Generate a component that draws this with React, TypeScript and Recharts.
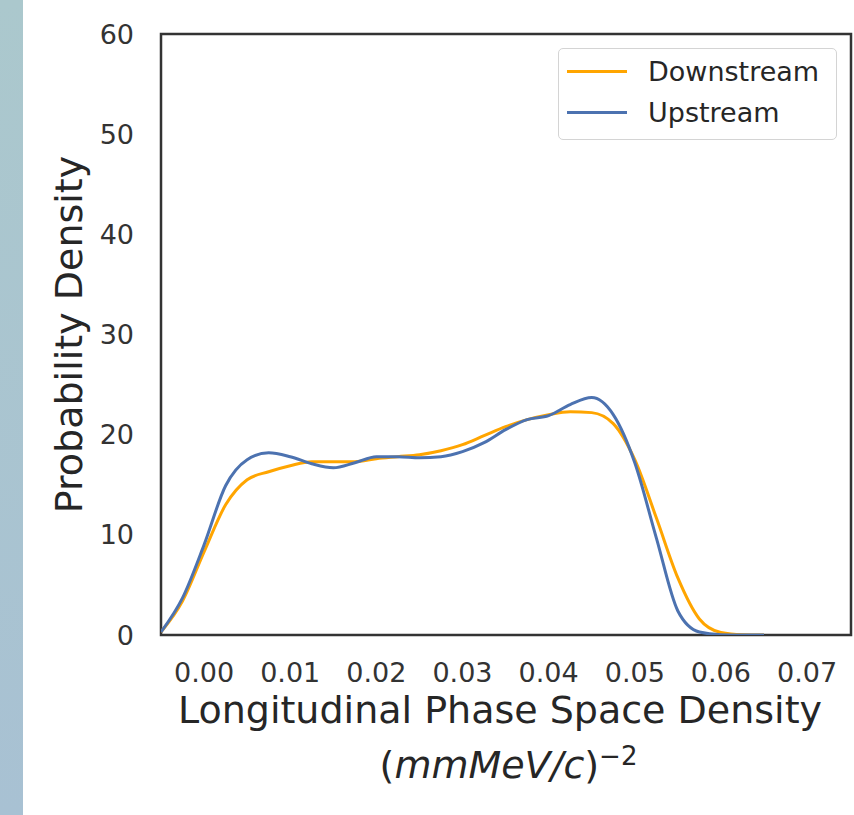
import React from "react";
import { LineChart, Line, XAxis, YAxis, Legend, ReferenceArea } from "recharts";

/** Sample positions along the density axis. */
const X_VALUES = [
  -0.005, -0.0025, 0, 0.0025, 0.005, 0.0075, 0.01, 0.0125, 0.015, 0.0175, 0.02,
  0.0225, 0.025, 0.0275, 0.03, 0.0325, 0.035, 0.0375, 0.04, 0.0425, 0.045,
  0.0475, 0.05, 0.0525, 0.055, 0.0575, 0.06, 0.0625, 0.065,
];

/** KDE. */
const DOWNSTREAM = [
  0.3, 3.4, 8.3, 13.0, 15.5, 16.3, 16.9, 17.3, 17.3, 17.3, 17.6, 17.8, 18.0,
  18.4, 19.0, 19.9, 20.8, 21.5, 22.0, 22.3, 22.2, 21.1, 17.5, 11.7, 5.7, 1.6,
  0.25, 0.03, 0,
];

/** KDE. */
const UPSTREAM = [
  0.3, 3.7, 9.0, 14.9, 17.5, 18.2, 17.8, 17.1, 16.7, 17.2, 17.8, 17.8, 17.7,
  17.8, 18.3, 19.2, 20.5, 21.5, 21.9, 23.0, 23.7, 22.0, 17.2, 9.7, 2.4, 0.3,
  0.03, 0, 0,
];

const X_TICKS = [0, 0.01, 0.02, 0.03, 0.04, 0.05, 0.06, 0.07];
const Y_TICKS = [0, 10, 20, 30, 40, 50, 60];
const X_DOMAIN: [number, number] = [-0.005, 0.0751];
const Y_DOMAIN: [number, number] = [0, 60];

const TEXT_COLOR = "#262626";
const TICK_COLOR = "#333";
const FRAME_COLOR = "#333";

const SERIES = [
  { key: "downstream", name: "Downstream", color: "#ffa500", values: DOWNSTREAM },
  { key: "upstream", name: "Upstream", color: "#4c72b0", values: UPSTREAM },
];

const rows = X_VALUES.map((x, i) => {
  const row: Record<string, number> = { x };
  SERIES.forEach((s) => {
    row[s.key] = s.values[i];
  });
  return row;
});

function XLabel({ viewBox }: any) {
  if (!viewBox) return null;
  const cx = viewBox.x + viewBox.width / 2;
  const top = viewBox.y;
  return (
    <g fill={TEXT_COLOR} fontSize={38}>
      <text x={cx - 6} y={top + 88} textAnchor="middle">
        Longitudinal Phase Space Density
      </text>
      <text x={cx + 2.5} y={top + 143} textAnchor="middle">
        <tspan>(</tspan>
        <tspan fontStyle="italic">mmMeV/c</tspan>
        <tspan>)</tspan>
        <tspan dy={-13} fontSize={26}>
          −2
        </tspan>
      </text>
    </g>
  );
}

function YLabel({ viewBox }: any) {
  if (!viewBox) return null;
  const x = viewBox.x + viewBox.width - 79;
  const cy = viewBox.y + viewBox.height / 2;
  return (
    <text
      x={x}
      y={cy}
      transform={`rotate(-90, ${x}, ${cy})`}
      textAnchor="middle"
      fontSize={38}
      fill={TEXT_COLOR}
    >
      Probability Density
    </text>
  );
}

function LegendBox({ payload }: any) {
  return (
    <div
      style={{
        width: 279,
        height: 92,
        boxSizing: "border-box",
        border: "1.5px solid #d4d4d4",
        borderRadius: 5,
        background: "rgba(255,255,255,0.85)",
        paddingTop: 2,
      }}
    >
      {(payload || []).map((entry: any) => (
        <div
          key={entry.value}
          style={{ display: "flex", alignItems: "center", height: 41 }}
        >
          <span
            style={{
              marginLeft: 8,
              width: 60,
              height: 3,
              background: entry.color,
            }}
          />
          <span
            style={{
              marginLeft: 21,
              fontSize: 27,
              lineHeight: 1,
              color: TEXT_COLOR,
            }}
          >
            {entry.value}
          </span>
        </div>
      ))}
    </div>
  );
}

export default function App() {
  return (
    <div
      style={{
        position: "absolute",
        left: 0,
        top: 0,
        width: 854,
        height: 815,
        background: "#fff",
        fontFamily: "'DejaVu Sans', sans-serif",
      }}
    >
      <div
        style={{
          position: "absolute",
          left: 0,
          top: 0,
          width: 23,
          height: 815,
          background: "linear-gradient(#abc8cd, #a8c1d3)",
        }}
      />
      <LineChart
        width={854}
        height={815}
        data={rows}
        margin={{ top: 34, right: 3, bottom: 120, left: 101 }}
      >
        <XAxis
          dataKey="x"
          type="number"
          domain={X_DOMAIN}
          ticks={X_TICKS}
          interval={0}
          allowDataOverflow
          axisLine={false}
          tickLine={false}
          tickSize={0}
          tickMargin={28}
          height={60}
          tick={{ fill: TICK_COLOR, fontSize: 27 }}
          tickFormatter={(v: number) => v.toFixed(2)}
          label={<XLabel />}
        />
        <YAxis
          type="number"
          domain={Y_DOMAIN}
          ticks={Y_TICKS}
          interval={0}
          allowDataOverflow
          axisLine={false}
          tickLine={false}
          tickSize={0}
          tickMargin={27}
          width={60}
          tick={{ fill: TICK_COLOR, fontSize: 27 }}
          label={<YLabel />}
        />
        {SERIES.map((s) => (
          <Line
            key={s.key}
            dataKey={s.key}
            name={s.name}
            type="monotone"
            stroke={s.color}
            strokeWidth={3}
            dot={false}
            activeDot={false}
            isAnimationActive={false}
          />
        ))}
        <ReferenceArea
          x1={X_DOMAIN[0]}
          x2={X_DOMAIN[1]}
          y1={Y_DOMAIN[0]}
          y2={Y_DOMAIN[1]}
          fill="none"
          stroke={FRAME_COLOR}
          strokeWidth={2.5}
          ifOverflow="extendDomain"
        />
        <Legend
          layout="vertical"
          align="center"
          verticalAlign="middle"
          content={(props: any) => <LegendBox {...props} />}
          wrapperStyle={{ left: 558, top: 48, width: 279, height: 92 }}
        />
      </LineChart>
    </div>
  );
}
